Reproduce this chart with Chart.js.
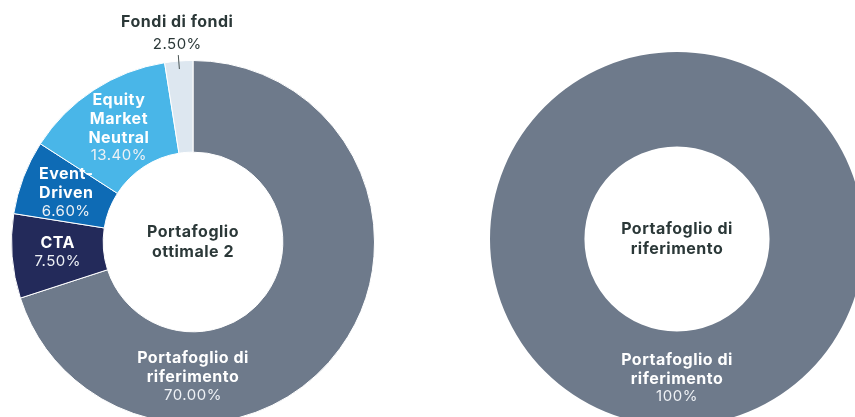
<!DOCTYPE html>
<html lang="it">
<head>
<meta charset="utf-8">
<title>Portafoglio ottimale 2 vs riferimento</title>
<script src="https://cdn.jsdelivr.net/npm/chart.js@4.4.1/dist/chart.umd.min.js"></script>
<style>
    html, body { margin: 0; padding: 0; background: #fff; overflow: hidden; }
    body { width: 855px; height: 417px; position: relative; }
    canvas { position: absolute; top: 0; }
    #optimalChart { left: 0; }
    #benchmarkChart { left: 480px; }
</style>
</head>
<body>
<canvas id="optimalChart" width="386" height="484"></canvas>
<canvas id="benchmarkChart" width="394" height="478"></canvas>
<script>
// --- DATA ---
const categories = ['Portafoglio di riferimento', 'CTA', 'Event-Driven', 'Equity Market Neutral', 'Fondi di fondi'];
const optimalWeights = [70.0, 7.5, 6.6, 13.4, 2.5];
const benchmarkCategories = ['Portafoglio di riferimento'];
const benchmarkWeights = [100];

// how each category name is broken into lines inside the ring
const labelLines = {
    'Portafoglio di riferimento': ['Portafoglio di', 'riferimento'],
    'CTA': ['CTA'],
    'Event-Driven': ['Event-', 'Driven'],
    'Equity Market Neutral': ['Equity', 'Market', 'Neutral'],
    'Fondi di fondi': ['Fondi di fondi']
};

const sliceColors = {
    'Portafoglio di riferimento': '#6e7a8b',
    'CTA': '#232a5a',
    'Event-Driven': '#0e6bb5',
    'Equity Market Neutral': '#49b6e8',
    'Fondi di fondi': '#dde7f0'
};

const FONT = 'Inter, "Open Sans", sans-serif';
const DARK = '#2b3838';

// --- LABEL PLUGIN: names + percentages on each slice ---
const sliceLabels = {
    id: 'sliceLabels',
    afterDatasetsDraw(chart, args, opts) {
        const ctx = chart.ctx;
        const meta = chart.getDatasetMeta(0);
        const values = chart.data.datasets[0].data;
        const names = chart.data.labels;
        const lh = 19;

        ctx.save();
        ctx.textAlign = 'center';
        ctx.textBaseline = 'middle';
        ctx.letterSpacing = '0.5px';

        meta.data.forEach((arc, i) => {
            const p = arc.getProps(['x', 'y', 'startAngle', 'endAngle', 'innerRadius', 'outerRadius'], true);
            const lines = labelLines[names[i]] || [names[i]];
            const pct = values[i].toFixed(opts.decimals) + '%';
            let mid = (p.startAngle + p.endAngle) / 2;
            if (i === 0) mid = Math.PI / 2; // main slice label sits at the bottom

            if (values[i] < 5) {
                // small slice: label outside with a short leader line
                const cos = Math.cos(mid), sin = Math.sin(mid);
                ctx.strokeStyle = '#4a5555';
                ctx.lineWidth = 1;
                ctx.beginPath();
                ctx.moveTo(p.x + cos * (p.outerRadius - 8), p.y + sin * (p.outerRadius - 8));
                ctx.lineTo(p.x + cos * (p.outerRadius + 6), p.y + sin * (p.outerRadius + 6));
                ctx.stroke();
                const tx = p.x + cos * (p.outerRadius + 6);
                const ty = p.y + sin * (p.outerRadius + 6);
                ctx.fillStyle = DARK;
                ctx.font = '400 15px ' + FONT;
                ctx.fillText(pct, tx - 1, ty - 11);
                ctx.font = '700 16px ' + FONT;
                ctx.fillText(lines[0], tx - 1, ty - 33);
                return;
            }

            const r = (p.innerRadius + p.outerRadius) / 2;
            const cx = p.x + Math.cos(mid) * r;
            const cy = p.y + Math.sin(mid) * r;
            const n = lines.length + 1;
            let y = cy - (n - 1) * lh / 2;

            ctx.fillStyle = '#ffffff';
            ctx.font = '700 16px ' + FONT;
            lines.forEach(t => {
                ctx.fillText(t, cx, y);
                y += lh;
            });
            ctx.fillStyle = '#eef1f5';
            ctx.font = '400 15px ' + FONT;
            ctx.fillText(pct, cx, y - 1);
        });
        ctx.restore();
    }
};

// --- CENTER TEXT PLUGIN ---
const centerText = {
    id: 'centerText',
    afterDraw(chart, args, opts) {
        const ctx = chart.ctx;
        const arc = chart.getDatasetMeta(0).data[0];
        if (!arc) return;
        ctx.save();
        ctx.textAlign = 'center';
        ctx.textBaseline = 'middle';
        ctx.letterSpacing = '0.5px';
        ctx.fillStyle = DARK;
        ctx.font = '700 16px ' + FONT;
        const lh = 20;
        let y = arc.y - (opts.lines.length - 1) * lh / 2;
        opts.lines.forEach(t => {
            ctx.fillText(t, arc.x, y);
            y += lh;
        });
        ctx.restore();
    }
};

const buildChart = (el, labels, values, centerLines, decimals, pad, border) => {
    return new Chart(el, {
        type: 'doughnut',
        data: {
            labels: labels,
            datasets: [{
                data: values,
                backgroundColor: labels.map(l => sliceColors[l]),
                borderColor: '#ffffff',
                borderWidth: border
            }]
        },
        options: {
            responsive: false,
            animation: false,
            cutout: '49.5%',
            layout: { padding: pad },
            plugins: {
                legend: { display: false },
                tooltip: { enabled: false },
                sliceLabels: { decimals: decimals },
                centerText: { lines: centerLines }
            }
        },
        plugins: [sliceLabels, centerText]
    });
};

buildChart(document.getElementById('optimalChart'), categories, optimalWeights,
    ['Portafoglio', 'ottimale 2'], 2, { top: 60, bottom: 60, left: 11, right: 11 }, 1);

buildChart(document.getElementById('benchmarkChart'), benchmarkCategories, benchmarkWeights,
    ['Portafoglio di', 'riferimento'], 0, { top: 52, bottom: 52, left: 10, right: 10 }, 0);
</script>
</body>
</html>
